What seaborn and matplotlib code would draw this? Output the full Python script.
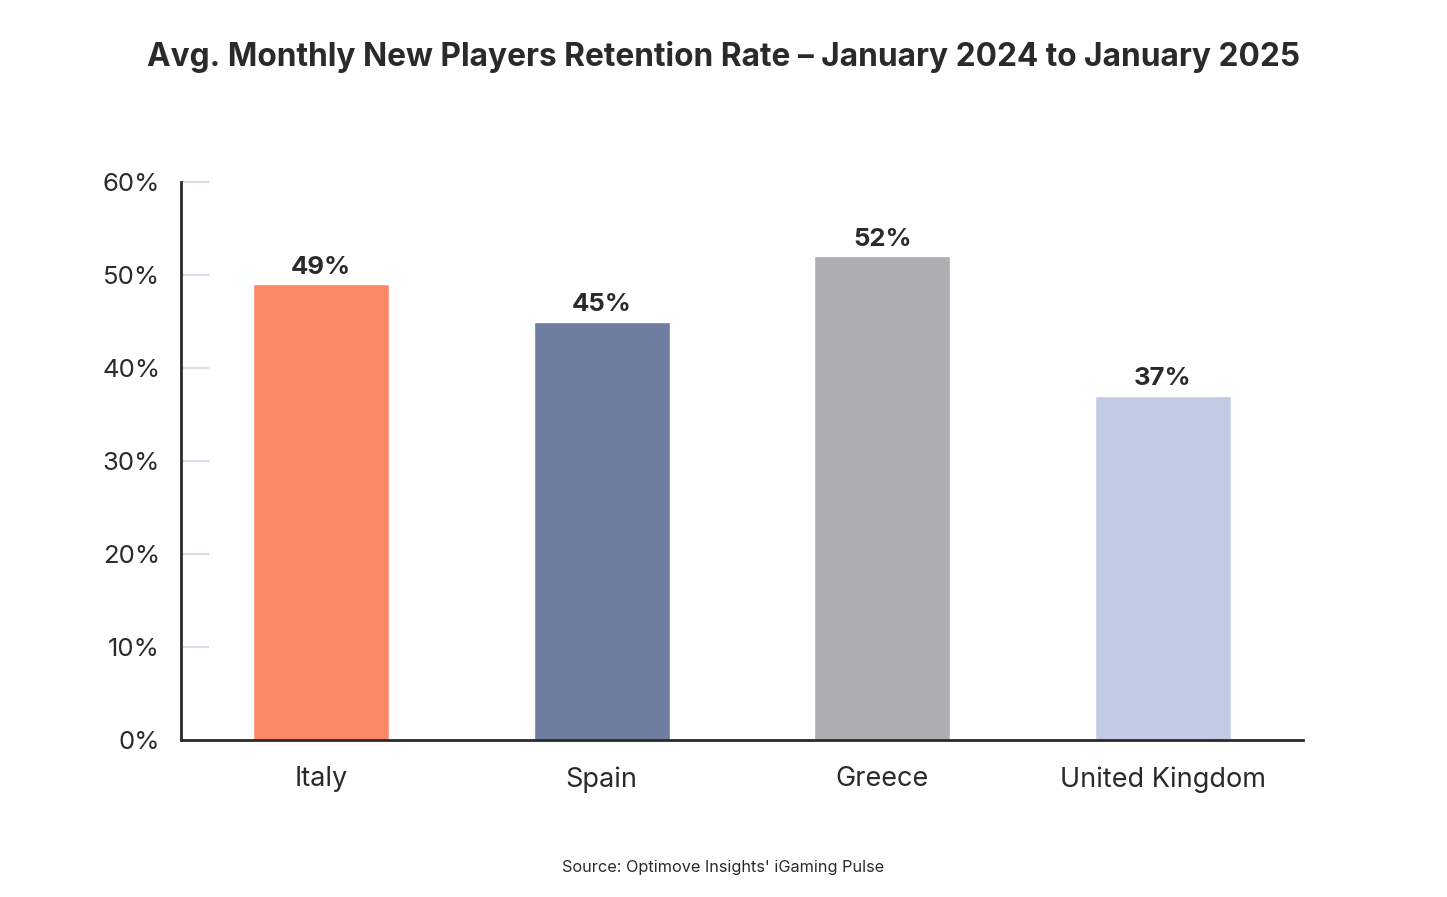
import pandas as pd
import numpy as np
import seaborn as sns
import matplotlib.pyplot as plt
from matplotlib.ticker import FuncFormatter

# data
countries = ['Italy', 'Spain', 'Greece', 'United Kingdom']
retention = [49, 45, 52, 37]
bar_colors = ['#F88866', '#6F7DA0', '#AEADB2', '#C3CBE4']
y_ticks = [0, 10, 20, 30, 40, 50, 60]

sns.set_theme(style='white')
plt.rcParams['font.family'] = ['Inter', 'DejaVu Sans']

df = pd.DataFrame({'country': countries, 'retention': retention})

fig = plt.figure(figsize=(14.47, 8.97), dpi=100)
ax = fig.add_axes([0.1251, 0.175, 0.7754, 0.622])

sns.barplot(data=df, x='country', y='retention', hue='country',
            palette=bar_colors, width=0.485, saturation=1,
            legend=False, ax=ax)

# value labels above bars
for i, v in enumerate(retention):
    ax.text(i, v + 0.6, f'{v}%', ha='center', va='bottom',
            fontsize=18.5, fontweight='bold', color='#2a2a2a')

ax.set_xlim(-0.5, 3.5)
ax.set_ylim(0, 60)
ax.set_yticks(y_ticks)
ax.yaxis.set_major_formatter(FuncFormatter(lambda v, p: f'{int(v)}%'))

ax.set_xlabel('')
ax.set_ylabel('')

for side in ['top', 'right']:
    ax.spines[side].set_visible(False)
for side in ['left', 'bottom']:
    ax.spines[side].set_color('#2a2a2a')
    ax.spines[side].set_linewidth(2)

ax.tick_params(axis='y', left=True, direction='in', length=20, width=1.5,
               color='#dcdce8', labelsize=18.5, labelcolor='#2a2a2a', pad=15)
ax.tick_params(axis='x', bottom=False, length=0, labelsize=19.5,
               labelcolor='#2a2a2a', pad=19)

fig.text(0.5, 0.937, 'Avg. Monthly New Players Retention Rate \u2013 January 2024 to January 2025',
         ha='center', va='center', fontsize=22.8, fontweight='bold', color='#2a2a2a')
fig.text(0.5, 0.033, "Source: Optimove Insights' iGaming Pulse",
         ha='center', va='center', fontsize=11.7, color='#2a2a2a')

fig.savefig('out.png', dpi=100)
